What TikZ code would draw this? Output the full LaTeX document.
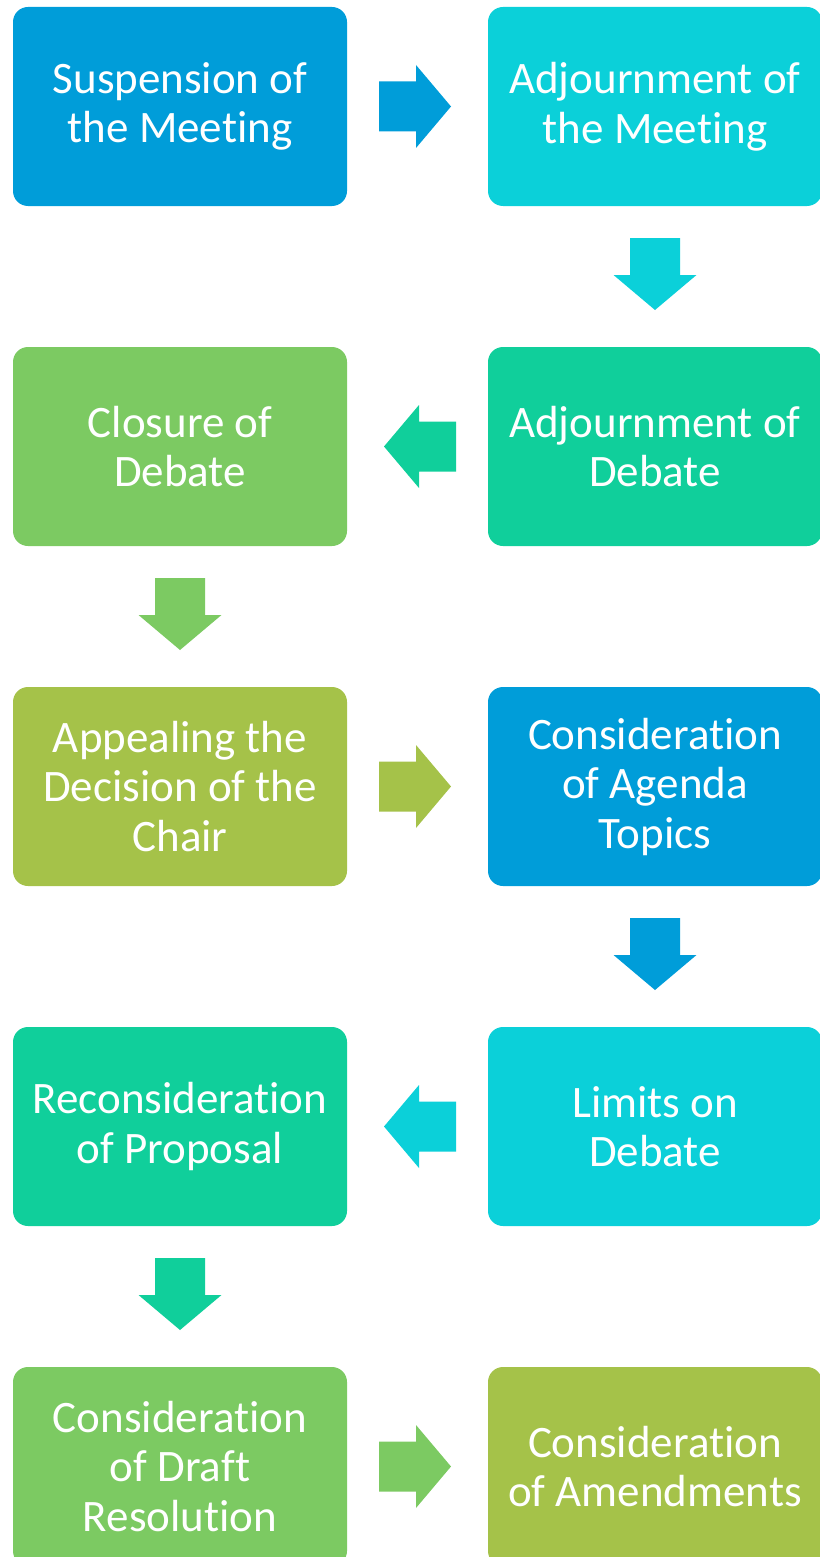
\documentclass[tikz,border=0pt]{standalone}
\usepackage{fontspec}
\setmainfont{Carlito}[Ligatures=NoCommon]
\usetikzlibrary{calc}
\definecolor{cBlue}{HTML}{009DD9}
\definecolor{cCyan}{HTML}{0BD0D9}
\definecolor{cTeal}{HTML}{10CF9B}
\definecolor{cLGreen}{HTML}{7CCA62}
\definecolor{cOlive}{HTML}{A5C249}
\tikzset{
  box/.style={rectangle, rounded corners=15pt, minimum width=334pt, minimum height=199pt,
    inner sep=0pt, align=center, text=white, fill=#1,
    font=\fontsize{45}{49.5}\selectfont},
  pics/barrow/.style={code={
    \fill[#1] (-38.5,-25) -- (-1.5,-25) -- (-1.5,-41.5) -- (33.5,0) -- (-1.5,41.5) -- (-1.5,25) -- (-38.5,25) -- cycle;
  }}
}
\begin{document}
\begin{tikzpicture}[x=1pt,y=-1pt]
\useasboundingbox (0,0) rectangle (819,1557);
% row 1
\node[box=cBlue]   (a1) at (180,106.5) {Suspension of\\the Meeting};
\node[box=cCyan]   (b1) at (655,106.5) {Adjournment of\\the Meeting};
% row 2
\node[box=cLGreen] (a2) at (180,446.5) {Closure of\\Debate};
\node[box=cTeal]   (b2) at (655,446.5) {Adjournment of\\Debate};
% row 3
\node[box=cOlive]  (a3) at (180,786.5) {Appealing the\\Decision of the\\Chair};
\node[box=cBlue]   (b3) at (655,786.5) {Consideration\\of Agenda\\Topics};
% row 4
\node[box=cTeal]   (a4) at (180,1126.5) {Reconsideration\\of Proposal};
\node[box=cCyan]   (b4) at (655,1126.5) {Limits on\\Debate};
% row 5
\node[box=cLGreen] (a5) at (180,1466.5) {Consideration\\of Draft\\Resolution};
\node[box=cOlive]  (b5) at (655,1466.5) {Consideration\\of Amendments};
% arrows
\pic at ($(a1.east)!0.5!(b1.west)$) {barrow=cBlue};
\pic[rotate=-90] at ($(b1.south)!0.5!(b2.north)$) {barrow=cCyan};
\pic[rotate=180] at ($(b2.west)!0.5!(a2.east)$) {barrow=cTeal};
\pic[rotate=-90] at ($(a2.south)!0.5!(a3.north)$) {barrow=cLGreen};
\pic at ($(a3.east)!0.5!(b3.west)$) {barrow=cOlive};
\pic[rotate=-90] at ($(b3.south)!0.5!(b4.north)$) {barrow=cBlue};
\pic[rotate=180] at ($(b4.west)!0.5!(a4.east)$) {barrow=cCyan};
\pic[rotate=-90] at ($(a4.south)!0.5!(a5.north)$) {barrow=cTeal};
\pic at ($(a5.east)!0.5!(b5.west)$) {barrow=cLGreen};
\end{tikzpicture}
\end{document}
